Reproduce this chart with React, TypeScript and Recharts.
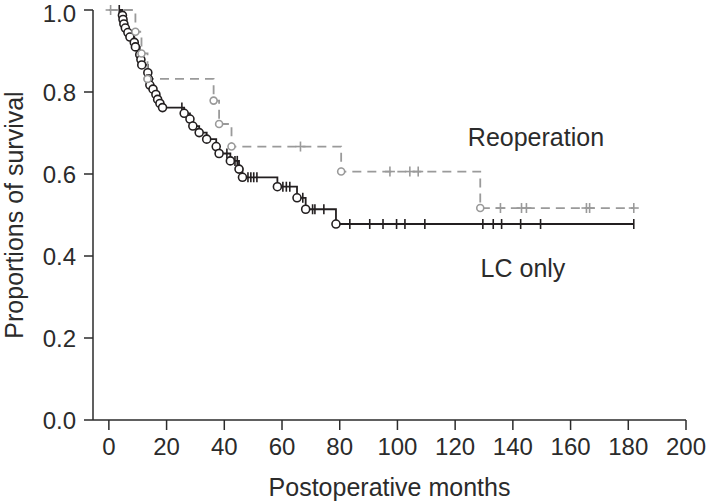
import React from 'react';
import { LineChart, Line, XAxis, YAxis, ReferenceDot } from 'recharts';

// Reoperation group (gray dashed)
const REOP_EVENT_MONTHS = [9.2, 11.3, 13.4, 36.3, 38.2, 42.5, 80.5, 128.7];
const REOP_EVENT_SURV = [0.947, 0.894, 0.832, 0.779, 0.722, 0.667, 0.606, 0.517];
const REOP_CENSOR_MONTHS = [0.6, 66.4, 97.4, 104.3, 107.2, 135.7, 143.0, 144.7, 165.5, 166.6, 181.9];

// LC only group (black solid)
const LC_EVENT_MONTHS = [
  4.7, 4.9, 5.2, 5.7, 6.6, 7.3, 8.8, 9.2, 10.7, 11.1, 11.4, 13.5, 13.7, 14.2, 15.3, 16.3, 16.9, 17.7, 18.6,
  26.1, 28.1, 29.1, 31.3, 33.9, 37.2, 38.2, 42.1, 45.1, 46.3, 58.4, 65.2, 68.2, 78.7,
];
const LC_EVENT_SURV = [
  0.987, 0.977, 0.966, 0.956, 0.945, 0.934, 0.921, 0.91, 0.891, 0.879, 0.866, 0.847, 0.832, 0.817, 0.807, 0.794, 0.782, 0.772, 0.762,
  0.748, 0.734, 0.717, 0.701, 0.685, 0.667, 0.65, 0.632, 0.612, 0.592, 0.569, 0.542, 0.514, 0.478,
];
const LC_CENSOR_MONTHS = [
  3.6, 25.3, 40.9, 43.7, 44.5, 48.2, 49.2, 50.2, 51.3, 60.3, 61.5, 62.7, 67.2, 70.6, 71.4, 74.5,
  83.5, 90.4, 95.0, 99.7, 102.6, 109.5, 129.6, 133.2, 136.1, 142.7, 149.6, 181.9,
];

const X_TICKS = [0, 20, 40, 60, 80, 100, 120, 140, 160, 180, 200];
const Y_TICKS = [0, 0.2, 0.4, 0.6, 0.8, 1.0];

const FONT = '"Liberation Sans", Arial, Helvetica, sans-serif';
const TEXT = '#2b2b2b';
const BLACK = '#231f20';
const GRAY = '#9a9a9a';

type Pt = { t: number; s: number; kind: string };

function buildCurve(evT: number[], evS: number[], cenT: number[], startT: number): Pt[] {
  const raw: Pt[] = [
    ...evT.map((t, i) => ({ t, s: evS[i], kind: 'e' })),
    ...cenT.map((t) => ({ t, s: NaN, kind: 'c' })),
  ].sort((a, b) => a.t - b.t);
  const out: Pt[] = [{ t: startT, s: 1, kind: 'none' }];
  let cur = 1;
  raw.forEach((p) => {
    if (p.kind === 'e') cur = p.s;
    out.push({ t: p.t, s: cur, kind: p.kind });
  });
  return out;
}

const reopData = buildCurve(REOP_EVENT_MONTHS, REOP_EVENT_SURV, REOP_CENSOR_MONTHS, 0);
const lcData = buildCurve(LC_EVENT_MONTHS, LC_EVENT_SURV, LC_CENSOR_MONTHS, 3.6);

const makeDot = (color: string, r: number, plus: boolean) => (props: any) => {
  const { cx, cy, payload, index } = props;
  if (cx == null || cy == null) return <g key={`n-${index}`} />;
  if (payload.kind === 'e') {
    return <circle key={`e-${index}`} cx={cx} cy={cy} r={r} fill="#fff" stroke={color} strokeWidth={1.6} />;
  }
  if (payload.kind === 'c') {
    return (
      <g key={`c-${index}`}>
        <line x1={cx} x2={cx} y1={cy - 5} y2={cy + 5} stroke={color} strokeWidth={1.6} />
        {plus && <line x1={cx - 5} x2={cx + 5} y1={cy} y2={cy} stroke={color} strokeWidth={1.6} />}
      </g>
    );
  }
  return <g key={`n-${index}`} />;
};

const YTitle = () => (
  <text
    x={14}
    y={215}
    transform="rotate(-90, 14, 215)"
    textAnchor="middle"
    dominantBaseline="central"
    fill={TEXT}
    fontSize={25}
    fontFamily={FONT}
  >
    Proportions of survival
  </text>
);

export default function App() {
  return (
    <div style={{ position: 'absolute', left: 0, top: 0, width: 708, height: 501, background: '#fff' }}>
      <LineChart width={708} height={501} margin={{ top: 10, right: 22, bottom: 0, left: 0 }}>
        <XAxis
          type="number"
          dataKey="t"
          domain={[-5.5, 200]}
          ticks={X_TICKS}
          allowDataOverflow
          height={81}
          tickSize={10}
          tickMargin={8}
          stroke={TEXT}
          strokeWidth={1.5}
          tick={{ fill: TEXT, fontSize: 24, fontFamily: FONT }}
          label={{ value: 'Postoperative months', position: 'insideBottom', offset: 5, fill: TEXT, fontSize: 25, fontFamily: FONT }}
        />
        <YAxis
          type="number"
          dataKey="s"
          domain={[0, 1]}
          ticks={Y_TICKS}
          width={93}
          tickSize={9}
          tickMargin={8}
          stroke={TEXT}
          strokeWidth={1.5}
          tickFormatter={(v: number) => v.toFixed(1)}
          tick={{ fill: TEXT, fontSize: 24, fontFamily: FONT }}
          label={<YTitle />}
        />
        <Line
          data={lcData}
          dataKey="s"
          type="stepAfter"
          stroke={BLACK}
          strokeWidth={1.8}
          dot={makeDot(BLACK, 4, false)}
          activeDot={false}
          isAnimationActive={false}
        />
        <Line
          data={reopData}
          dataKey="s"
          type="stepAfter"
          stroke={GRAY}
          strokeWidth={1.8}
          strokeDasharray="9 6"
          dot={makeDot(GRAY, 3.5, true)}
          activeDot={false}
          isAnimationActive={false}
        />
        <ReferenceDot
          x={148}
          y={0.69}
          r={0}
          fill="none"
          stroke="none"
          label={{ value: 'Reoperation', position: 'center', fill: TEXT, fontSize: 25, fontFamily: FONT }}
        />
        <ReferenceDot
          x={143.5}
          y={0.371}
          r={0}
          fill="none"
          stroke="none"
          label={{ value: 'LC only', position: 'center', fill: TEXT, fontSize: 25, fontFamily: FONT }}
        />
      </LineChart>
    </div>
  );
}
